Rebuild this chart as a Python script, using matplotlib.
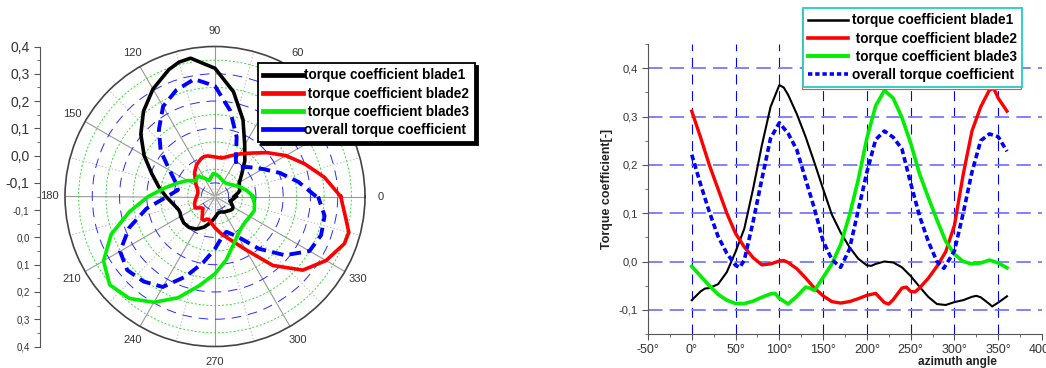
import numpy as np
import matplotlib.pyplot as plt
from matplotlib.patches import Rectangle
from matplotlib.lines import Line2D

plt.rcParams['font.family'] = ['Liberation Sans', 'DejaVu Sans']

# values (azimuth in degrees)
ang_b1 = [0, 10, 15, 20, 30, 40, 50, 60, 70, 80, 90, 100, 105, 110, 120, 130, 140, 150, 160, 170,
          180, 190, 200, 205, 210, 220, 230, 240, 250, 260, 270, 280, 290, 300, 310, 320, 325, 330,
          340, 343, 350, 360]
cq_b1 = [-0.080, -0.062, -0.056, -0.055, -0.047, -0.022, 0.020, 0.068, 0.150, 0.240, 0.320, 0.365,
         0.360, 0.345, 0.305, 0.258, 0.205, 0.150, 0.097, 0.060, 0.030, 0.006, -0.008, -0.009,
         -0.005, 0.000, -0.002, -0.012, -0.030, -0.052, -0.073, -0.088, -0.090, -0.084, -0.080,
         -0.073, -0.071, -0.074, -0.088, -0.093, -0.085, -0.072]

ang_b2 = [0, 10, 20, 30, 40, 50, 60, 70, 80, 90, 100, 105, 110, 120, 130, 140, 150, 160, 170, 180,
          190, 200, 210, 220, 225, 230, 240, 245, 250, 255, 260, 270, 280, 290, 300, 310, 320, 330,
          340, 345, 350, 360]
cq_b2 = [0.311, 0.257, 0.200, 0.150, 0.100, 0.058, 0.030, 0.008, -0.007, -0.005, 0.001, 0.002,
         -0.002, -0.015, -0.034, -0.055, -0.071, -0.083, -0.086, -0.083, -0.077, -0.070, -0.066,
         -0.085, -0.088, -0.079, -0.055, -0.053, -0.062, -0.063, -0.055, -0.035, -0.010, 0.020,
         0.075, 0.180, 0.270, 0.320, 0.355, 0.358, 0.338, 0.311]

ang_b3 = [0, 10, 20, 30, 40, 50, 60, 70, 80, 90, 95, 100, 110, 120, 130, 135, 140, 150, 160, 170,
          180, 190, 200, 210, 220, 230, 240, 250, 260, 270, 280, 290, 300, 310, 320, 330, 340, 350, 360]
cq_b3 = [-0.010, -0.030, -0.050, -0.068, -0.080, -0.087, -0.087, -0.082, -0.074, -0.067, -0.066,
         -0.076, -0.088, -0.072, -0.053, -0.055, -0.060, -0.033, -0.005, 0.035, 0.095, 0.168,
         0.255, 0.322, 0.354, 0.338, 0.298, 0.245, 0.182, 0.133, 0.086, 0.042, 0.015, 0.000,
         -0.005, -0.003, 0.003, -0.003, -0.013]

ang_all = [0, 10, 20, 30, 40, 50, 55, 60, 70, 80, 90, 100, 110, 120, 130, 140, 150, 160, 170, 180,
           190, 200, 210, 220, 230, 240, 250, 260, 270, 280, 288, 300, 310, 320, 330, 340, 350, 360]
cq_all = [0.221, 0.160, 0.103, 0.052, 0.017, -0.008, -0.012, 0.003, 0.082, 0.170, 0.255, 0.287,
          0.265, 0.231, 0.170, 0.110, 0.042, 0.004, -0.012, 0.025, 0.105, 0.185, 0.252, 0.270,
          0.257, 0.233, 0.162, 0.095, 0.042, 0.000, -0.014, 0.022, 0.100, 0.185, 0.250, 0.264,
          0.258, 0.228]

labels = ['torque coefficient blade1', ' torque coefficient blade2',
          ' torque coefficient blade3', 'overall torque coefficient']
r_major = [-0.1, 0.0, 0.1, 0.2, 0.3]
r_minor = [-0.05, 0.05, 0.15, 0.25, 0.35]
left_ticks = [0.4, 0.3, 0.2, 0.1, 0.0, -0.1]
x_ticks = [-50, 0, 50, 100, 150, 200, 250, 300, 350, 400]
y_ticks = [-0.1, 0.0, 0.1, 0.2, 0.3, 0.4]

W, H = 1046, 368
fig = plt.figure(figsize=(W / 100, H / 100), dpi=100)

# ---------------- polar chart ----------------
axp = fig.add_axes([65 / W, 21.5 / H, 300 / W, 300 / H], projection='polar')
axp.set_ylim(-0.15, 0.4)
axp.set_yticks(r_major)
axp.set_yticks(r_minor, minor=True)
axp.set_yticklabels([])
axp.tick_params(axis='y', which='both', length=0)
axp.yaxis.grid(True, which='major', color='#2a2aff', linestyle=(0, (10, 7)), linewidth=0.7)
axp.yaxis.grid(True, which='minor', color='#33dd33', linestyle=(0, (2, 2)), linewidth=0.7)
axp.set_xticks(np.deg2rad(np.arange(0, 360, 30)))
axp.set_xticklabels([str(a) for a in range(0, 360, 30)], fontsize=8, color='#333333')
axp.set_xticks(np.deg2rad(np.arange(15, 360, 30)), minor=True)
axp.tick_params(axis='x', which='both', length=0, pad=4)
axp.xaxis.grid(True, which='major', color='#999999', linestyle='-', linewidth=0.8)
axp.xaxis.grid(True, which='minor', color='#bbbbbb', linestyle=(0, (1.5, 2)), linewidth=0.7)
axp.spines['polar'].set_color('#444444')
axp.spines['polar'].set_linewidth(1.2)

axp.plot(np.deg2rad(ang_b1), cq_b1, color='black', lw=2.6)
axp.plot(np.deg2rad(ang_b2), cq_b2, color='#ff0000', lw=2.6)
axp.plot(np.deg2rad(ang_b3), cq_b3, color='#00ee00', lw=2.6)
axp.plot(np.deg2rad(ang_all), cq_all, color='#0000ff', lw=2.8, linestyle=(0, (3, 1.6)))

h_left = [Line2D([], [], color=c, lw=3.4) for c in ['black', '#ff0000', '#00ee00', '#0000ff']]
leg1 = axp.legend(h_left, labels, loc='upper left', bbox_to_anchor=(258 / W, 1 - 63 / H),
                  bbox_transform=fig.transFigure, prop=dict(weight='bold', size=9.8),
                  fancybox=False, edgecolor='black', framealpha=1,
                  shadow={'color': 'black', 'alpha': 1}, handlelength=2.9,
                  handletextpad=0.1, labelspacing=0.3, borderpad=0.4, borderaxespad=0)
leg1.get_frame().set_linewidth(1.3)

# left radial scale
axl = fig.add_axes([40 / W, 21.5 / H, 0.001, 300 / H])
axl.set_ylim(-0.55, 0.55)
for s in ['top', 'right', 'bottom']:
    axl.spines[s].set_visible(False)
axl.spines['left'].set_color('#555555')
axl.set_xticks([])
pos = [v + 0.15 for v in left_ticks] + [-(v + 0.15) for v in left_ticks]
txt = [f"{v:.1f}".replace('.', ',') for v in left_ticks] * 2
axl.set_yticks(pos)
axl.set_yticklabels(txt)
mpos = [v + 0.2 for v in left_ticks[1:]] + [-(v + 0.2) for v in left_ticks[1:]] + [0.0]
axl.set_yticks(mpos, minor=True)
axl.tick_params(axis='y', which='major', length=4, color='#555555', labelcolor='#333333')
axl.tick_params(axis='y', which='minor', length=2, color='#555555')
for lab, p in zip(axl.get_yticklabels(), pos):
    lab.set_fontsize(10 if p > 0 else 7)

# ---------------- cartesian chart ----------------
axr = fig.add_axes([648 / W, 34 / H, 394 / W, 290 / H])
axr.set_xlim(-50, 400)
axr.set_ylim(-0.15, 0.45)
axr.spines['top'].set_visible(False)
axr.spines['right'].set_visible(False)
for s in ['left', 'bottom']:
    axr.spines[s].set_color('#555555')
axr.set_xticks(x_ticks)
axr.set_xticklabels([f"{v}°" for v in x_ticks], fontsize=9, color='#333333')
axr.set_xticks([v + 25 for v in x_ticks[:-1]], minor=True)
axr.set_yticks(y_ticks)
axr.set_yticklabels([f"{v:.1f}".replace('.', ',') for v in y_ticks], fontsize=8, color='#333333')
axr.set_yticks([v + 0.05 for v in [-0.2] + y_ticks], minor=True)
axr.tick_params(which='major', length=4, color='#555555')
axr.tick_params(which='minor', length=2, color='#555555')
axr.yaxis.grid(True, which='major', color='#7777ff', linestyle=(0, (8, 4)), linewidth=1.3)
for v in x_ticks[1:-1]:
    axr.axvline(v, color='#0000ff', linestyle=(0, (9, 6)), linewidth=0.8, zorder=0)

axr.plot(ang_b1, cq_b1, color='black', lw=1.5)
axr.plot(ang_b2, cq_b2, color='#ff0000', lw=2.4)
axr.plot(ang_b3, cq_b3, color='#00ee00', lw=2.6)
axr.plot(ang_all, cq_all, color='#0000ff', lw=2.6, linestyle=(0, (1.6, 0.9)))

axr.set_ylabel('Torque coefficient[-]', fontsize=9, weight='bold', color='#222222')
axr.set_xlabel('azimuth angle', fontsize=8.5, weight='bold', color='#222222')
axr.xaxis.set_label_coords(0.785, -0.075)

h_right = [Line2D([], [], color='black', lw=1.8), Line2D([], [], color='#ff0000', lw=2.6),
           Line2D([], [], color='#00ee00', lw=2.8),
           Line2D([], [], color='#0000ff', lw=2.6, linestyle=(0, (1.2, 0.8)))]
leg2 = axr.legend(h_right, labels, loc='upper left', bbox_to_anchor=(803 / W, 1 - 8 / H),
                  bbox_transform=fig.transFigure, prop=dict(weight='bold', size=9.8),
                  fancybox=False, edgecolor='#22cccc', framealpha=1, handlelength=2.9,
                  handletextpad=0.3, labelspacing=0.3, borderpad=0.4, borderaxespad=0)
leg2.get_frame().set_linewidth(1.3)
leg2.set_zorder(6)

# thin red outline peeking out left/bottom of the legend box
fig.canvas.draw()
bb = leg2.get_window_extent().transformed(fig.transFigure.inverted())
axr.add_patch(Rectangle((bb.x0 - 1.5 / W, bb.y0 - 1.5 / H), bb.width, bb.height,
                        transform=fig.transFigure, facecolor='white', edgecolor='#ff4444',
                        linewidth=0.8, zorder=5.5, clip_on=False))

fig.savefig('out.png', dpi=100)
